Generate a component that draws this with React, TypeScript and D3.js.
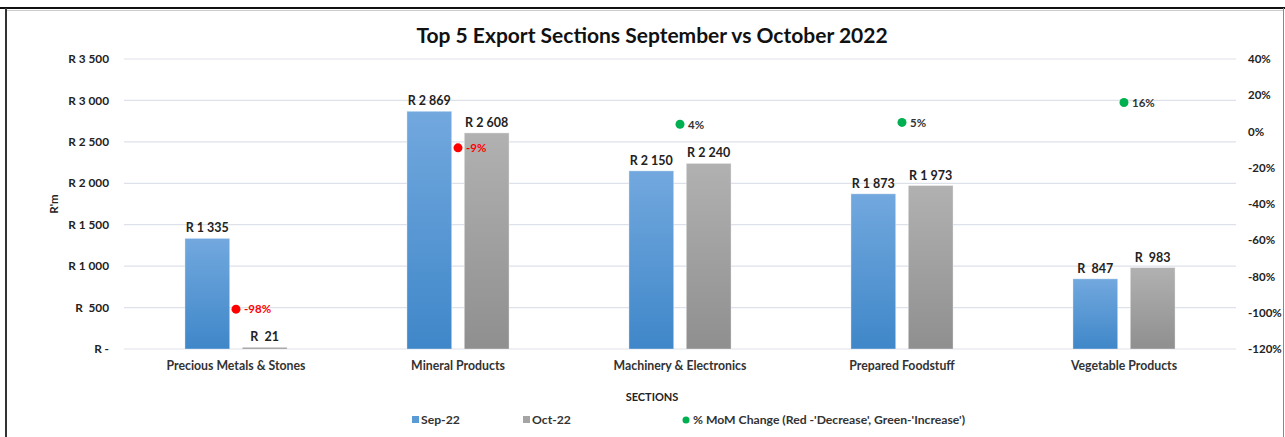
import * as d3 from 'd3';

const categories = [
  'Precious Metals & Stones',
  'Mineral Products',
  'Machinery & Electronics',
  'Prepared Foodstuff',
  'Vegetable Products',
];
const series = ['Sep-22', 'Oct-22'];
const sep22 = [1335, 2869, 2150, 1873, 847];
const oct22 = [21, 2608, 2240, 1973, 983];
const momChange = [-0.98, -0.09, 0.04, 0.05, 0.16];
const leftTicks = [0, 500, 1000, 1500, 2000, 2500, 3000, 3500];
const rightTicks = [0.4, 0.2, 0, -0.2, -0.4, -0.6, -0.8, -1.0, -1.2];

const W = 1285;
const H = 437;
const FONT = 'Lato, "Open Sans", sans-serif';

// Excel accounting style: "R 2 869", "R  847", "R -"
const rand = (v: number) => {
  if (v === 0) return 'R -';
  if (v < 1000) return `R  ${v}`;
  return 'R ' + d3.format(',')(v).replace(/,/g, ' ');
};
const pct = (v: number) => d3.format('.0%')(v).replace('−', '-');

export default function App() {
  const left = 125;
  const right = 1235;
  const top = 59;
  const bottom = 349;

  const x0 = d3.scaleBand<string>()
    .domain(categories)
    .range([left, right])
    .paddingInner(0.54)
    .paddingOuter(0.27);

  const x1 = d3.scaleBand<string>()
    .domain(series)
    .range([0, x0.bandwidth()])
    .paddingInner(0.22);

  const y = d3.scaleLinear().domain([0, 3500]).range([bottom, top]);
  const y2 = d3.scaleLinear().domain([-1.2, 0.4]).range([bottom, top]);

  const values = [sep22, oct22];
  const fills = ['url(#gradBlue)', 'url(#gradGrey)'];

  return (
    <svg width={W} height={H} style={{ position: 'absolute', left: 0, top: 0, background: '#fff' }}>
      <defs>
        <linearGradient id="gradBlue" x1="0" y1="0" x2="0" y2="1">
          <stop offset="0%" stopColor="#72a8de" />
          <stop offset="100%" stopColor="#3f87c9" />
        </linearGradient>
        <linearGradient id="gradGrey" x1="0" y1="0" x2="0" y2="1">
          <stop offset="0%" stopColor="#b1b1b1" />
          <stop offset="100%" stopColor="#8f8f8f" />
        </linearGradient>
      </defs>

      {/* frame */}
      <line x1={0} x2={W} y1={8} y2={8} stroke="#111" strokeWidth={2} />
      <line x1={6} x2={6} y1={8} y2={H} stroke="#333" strokeWidth={2} />
      <line x1={W - 1.5} x2={W - 1.5} y1={8} y2={H} stroke="#888" strokeWidth={1} />
      <line x1={7} x2={W - 2} y1={10.5} y2={10.5} stroke="#ccc" strokeWidth={1} />

      {/* title */}
      <text x={652} y={43} textAnchor="middle" fontFamily={FONT} fontWeight="bold" fontSize={21} fill="#111">
        Top 5 Export Sections September vs October 2022
      </text>

      {/* gridlines */}
      {leftTicks.map((t) => (
        <line key={t} x1={left - 1} x2={right + 1} y1={y(t)} y2={y(t)} stroke="#dde2ea" strokeWidth={1.2} />
      ))}

      {/* left axis */}
      {leftTicks.map((t) => (
        <text key={t} x={109} y={y(t)} dy="0.35em" textAnchor="end" fontFamily={FONT} fontWeight="bold"
          fontSize={11.8} fill="#222" style={{ whiteSpace: 'pre' }}>
          {rand(t)}
        </text>
      ))}
      <text transform={`translate(58,${(top + bottom) / 2}) rotate(-90)`} textAnchor="middle"
        fontFamily={FONT} fontWeight="bold" fontSize={11.5} fill="#222">
        R'm
      </text>

      {/* right axis */}
      {rightTicks.map((t) => (
        <text key={t} x={1248} y={y2(t)} dy="0.35em" fontFamily={FONT} fontWeight="bold"
          fontSize={11.5} fill="#222">
          {pct(t)}
        </text>
      ))}

      {/* bars */}
      {categories.map((c, i) => (
        <g key={c} transform={`translate(${x0(c)},0)`}>
          {series.map((s, j) => {
            const v = values[j][i];
            const bx = x1(s)!;
            const by = y(v);
            return (
              <g key={s}>
                <rect x={bx} y={by} width={x1.bandwidth()} height={bottom - by}
                  fill={fills[j]} stroke="#fff" strokeOpacity={0.35} strokeWidth={1} />
                <text x={bx + x1.bandwidth() / 2} y={by - 6} textAnchor="middle" fontFamily={FONT}
                  fontWeight="bold" fontSize={12.5} fill="#222" style={{ whiteSpace: 'pre' }}>
                  {rand(v)}
                </text>
              </g>
            );
          })}
        </g>
      ))}

      {/* % MoM change points */}
      {categories.map((c, i) => {
        const cx = x0(c)! + x0.bandwidth() / 2;
        const cy = y2(momChange[i]);
        const neg = momChange[i] < 0;
        return (
          <g key={c}>
            <circle cx={cx} cy={cy} r={4.5} fill={neg ? '#ff0000' : '#00b050'} />
            <text x={cx + 8} y={cy} dy="0.38em" fontFamily={FONT} fontWeight="bold" fontSize={11.5}
              fill={neg ? '#ff0000' : '#333'}>
              {pct(momChange[i])}
            </text>
          </g>
        );
      })}

      {/* category labels */}
      {categories.map((c) => (
        <text key={c} x={x0(c)! + x0.bandwidth() / 2} y={370} textAnchor="middle" fontFamily={FONT}
          fontWeight="bold" fontSize={12.3} fill="#333">
          {c}
        </text>
      ))}

      <text x={652} y={401} textAnchor="middle" fontFamily={FONT} fontWeight="bold" fontSize={11} fill="#222">
        SECTIONS
      </text>

      {/* legend */}
      <rect x={412} y={416} width={7} height={7} fill="#5b9bd5" />
      <text x={421} y={424} fontFamily={FONT} fontWeight="bold" fontSize={12.2} fill="#333">Sep-22</text>
      <rect x={523} y={416} width={7} height={7} fill="#a5a5a5" />
      <text x={532} y={424} fontFamily={FONT} fontWeight="bold" fontSize={12.2} fill="#333">Oct-22</text>
      <circle cx={686} cy={420} r={3.5} fill="#00b050" />
      <text x={693} y={424} fontFamily={FONT} fontWeight="bold" fontSize={12.2} fill="#333">
        % MoM Change (Red -'Decrease', Green-'Increase')
      </text>
    </svg>
  );
}
